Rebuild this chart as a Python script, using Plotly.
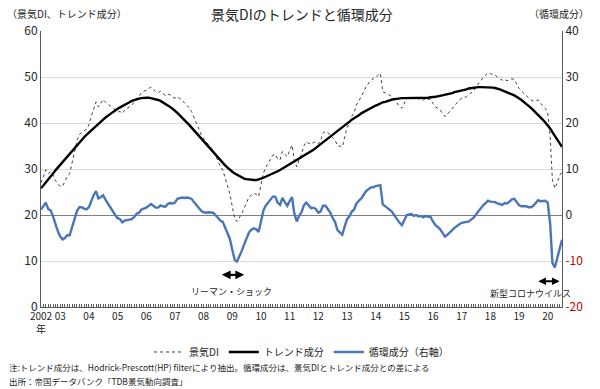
import plotly.graph_objects as go
import pandas as pd

start_month = "2002-05-01"

di = [27.0, 28.5, 29.8, 29.0, 29.4, 28.7, 27.5, 26.8, 26.2, 26.3,
      27.2, 28.4, 29.0, 31.5, 34.0, 36.0, 37.5, 38.0, 38.3, 38.6,
      39.6, 41.5, 43.2, 44.6, 43.5, 44.2, 45.1, 44.5, 44.0, 43.7,
      43.3, 42.8, 42.4, 42.5, 42.1, 42.8, 43.2, 43.5, 43.9, 44.6,
      45.4, 45.8, 46.6, 46.9, 47.1, 47.5, 47.8, 47.3, 46.8, 46.6,
      46.9, 46.4, 46.0, 46.3, 46.1, 45.6, 45.4, 45.7, 45.4, 45.0,
      44.4, 43.9, 43.3, 42.5, 41.2, 40.0, 38.6, 37.5, 36.6, 35.9,
      35.4, 34.7, 34.1, 33.0, 31.8, 30.6, 29.8, 28.2, 26.4, 24.6,
      21.8, 19.2, 18.6, 19.4, 20.3, 21.5, 22.8, 23.9, 24.4, 24.7,
      24.5, 24.0, 26.5, 29.1, 30.3, 31.2, 31.9, 33.0, 33.2, 32.2,
      32.0, 33.8, 33.2, 32.7, 34.0, 35.2, 32.0, 30.5, 32.0, 33.2,
      35.0, 35.9, 35.6, 35.4, 35.8, 35.9, 35.5, 36.2, 37.8, 38.2,
      37.9, 37.5, 36.8, 36.3, 35.0, 35.0, 34.8, 36.9, 39.0, 40.0,
      41.4, 42.2, 43.9, 44.8, 45.7, 46.8, 47.9, 48.6, 49.3, 49.6,
      50.1, 50.4, 50.8, 46.8, 46.6, 46.3, 46.0, 45.7, 45.0, 44.3,
      43.6, 43.2, 44.5, 45.4, 45.6, 45.7, 45.3, 45.5, 45.2, 45.3,
      45.0, 45.3, 45.1, 45.2, 44.2, 43.5, 43.2, 42.8, 42.1, 41.4,
      41.9, 42.5, 43.2, 43.9, 44.5, 45.0, 45.4, 45.6, 45.7, 46.1,
      46.6, 47.0, 47.8, 48.6, 49.3, 49.9, 50.4, 50.9, 50.7, 50.5,
      50.4, 50.0, 49.6, 49.3, 49.5, 49.2, 49.4, 49.6, 49.5, 48.6,
      47.5, 46.9, 46.5, 46.1, 45.5, 45.0, 44.8, 44.9, 45.0, 44.3,
      43.8, 43.2, 42.2, 37.0, 27.6, 25.8, 27.0, 28.6, 29.4]

trend = [25.8, 26.4, 27.1, 27.7, 28.4, 29.0, 29.7, 30.3, 30.9, 31.6,
         32.2, 32.8, 33.4, 34.0, 34.6, 35.2, 35.8, 36.3, 36.9, 37.4,
         37.9, 38.4, 38.9, 39.4, 39.9, 40.3, 40.8, 41.2, 41.6, 42.0,
         42.4, 42.8, 43.1, 43.4, 43.7, 44.0, 44.3, 44.5, 44.8, 45.0,
         45.1, 45.3, 45.4, 45.5, 45.5, 45.5, 45.4, 45.3, 45.2, 45.0,
         44.8, 44.5, 44.2, 43.9, 43.5, 43.1, 42.7, 42.2, 41.7, 41.2,
         40.7, 40.1, 39.6, 39.0, 38.4, 37.8, 37.2, 36.6, 36.0, 35.4,
         34.8, 34.2, 33.6, 33.0, 32.4, 31.8, 31.3, 30.8, 30.3, 29.8,
         29.4, 29.0, 28.7, 28.4, 28.1, 27.9, 27.8, 27.7, 27.6, 27.6,
         27.6, 27.7, 27.9, 28.1, 28.3, 28.5, 28.7, 29.0, 29.2, 29.5,
         29.8, 30.1, 30.4, 30.7, 31.0, 31.3, 31.6, 31.9, 32.2, 32.6,
         32.9, 33.2, 33.5, 33.9, 34.2, 34.6, 35.0, 35.4, 35.8, 36.2,
         36.6, 37.0, 37.4, 37.8, 38.3, 38.7, 39.1, 39.5, 39.9, 40.3,
         40.7, 41.0, 41.4, 41.7, 42.1, 42.4, 42.7, 43.0, 43.3, 43.6,
         43.8, 44.0, 44.3, 44.5, 44.6, 44.8, 44.9, 45.1, 45.2, 45.3,
         45.3, 45.4, 45.4, 45.4, 45.5, 45.5, 45.5, 45.5, 45.5, 45.5,
         45.5, 45.5, 45.5, 45.6, 45.6, 45.7, 45.8, 45.9, 46.0, 46.1,
         46.2, 46.4, 46.5, 46.7, 46.8, 47.0, 47.1, 47.2, 47.3, 47.5,
         47.6, 47.6, 47.7, 47.8, 47.8, 47.8, 47.8, 47.8, 47.8, 47.7,
         47.6, 47.5, 47.3, 47.1, 46.9, 46.7, 46.5, 46.2, 46.0, 45.7,
         45.4, 45.0, 44.6, 44.2, 43.8, 43.3, 42.8, 42.3, 41.8, 41.3,
         40.7, 40.1, 39.5, 38.8, 38.0, 37.2, 36.4, 35.6, 34.8]

cycle = [1.2, 2.1, 2.7, 1.3, 1.0, -0.3, -2.2, -3.5, -4.7, -5.3,
         -5.0, -4.4, -4.4, -2.5, -0.6, 0.8, 1.7, 1.7, 1.4, 1.2,
         1.7, 3.1, 4.3, 5.2, 3.6, 3.9, 4.3, 3.3, 2.4, 1.7,
         0.9, 0.0, -0.7, -0.9, -1.6, -1.2, -1.1, -1.0, -0.9, -0.4,
         0.3, 0.5, 1.2, 1.4, 1.6, 2.0, 2.4, 2.0, 1.6, 1.6,
         2.1, 1.9, 1.8, 2.4, 2.6, 2.5, 2.7, 3.5, 3.7, 3.8,
         3.7, 3.8, 3.7, 3.5, 2.8, 2.2, 1.4, 0.9, 0.6, 0.5,
         0.6, 0.5, 0.5, 0.0, -0.6, -1.2, -1.5, -2.6, -3.9, -5.2,
         -7.6, -9.8, -10.1, -9.0, -7.8, -6.4, -5.0, -3.8, -3.2, -2.9,
         -3.1, -3.7, -1.4, 1.0, 2.0, 2.7, 3.2, 4.0, 4.0, 2.7,
         2.2, 3.7, 2.8, 2.0, 3.0, 3.9, 0.4, -1.4, -0.2, 0.6,
         2.1, 2.7, 2.1, 1.5, 1.6, 1.3, 0.5, 0.8, 2.0, 2.0,
         1.3, 0.5, -0.6, -1.5, -3.3, -3.7, -4.3, -2.6, -0.9, -0.3,
         0.7, 1.2, 2.5, 3.1, 3.6, 4.4, 5.2, 5.6, 6.0, 6.0,
         6.3, 6.4, 6.5, 2.3, 2.0, 1.5, 1.1, 0.6, -0.2, -1.0,
         -1.7, -2.2, -0.9, 0.0, 0.1, 0.2, -0.2, 0.0, -0.3, -0.2,
         -0.5, -0.2, -0.4, -0.4, -1.4, -2.2, -2.6, -3.1, -3.9, -4.7,
         -4.3, -3.9, -3.3, -2.8, -2.3, -2.0, -1.7, -1.6, -1.6, -1.4,
         -1.0, -0.6, 0.1, 0.8, 1.5, 2.1, 2.6, 3.1, 2.9, 2.8,
         2.8, 2.5, 2.3, 2.2, 2.6, 2.5, 2.9, 3.4, 3.5, 2.9,
         2.1, 1.9, 1.9, 1.9, 1.7, 1.7, 2.0, 2.6, 3.2, 3.0,
         3.1, 3.1, 2.7, -1.8, -10.4, -11.4, -9.4, -7.0, -5.4]

tick_dates = ["2002-05-01"] + [f"{y}-01-01" for y in range(2003, 2021)]
tick_labels = ["2002<br>年"] + [f"{y % 100:02d}" for y in range(2003, 2021)]

left_ticks = [0, 10, 20, 30, 40, 50, 60]
right_ticks = [-20, -10, 0, 10, 20, 30, 40]
right_labels = ["<span style='color:#c00000'>-20</span>",
                "<span style='color:#c00000'>-10</span>",
                "0", "10", "20", "30", "40"]

months = pd.date_range(start_month, periods=len(di), freq="MS")

FONT = "Noto Sans CJK JP"
TXT = "#262626"

fig = go.Figure()
fig.add_trace(go.Scatter(x=months, y=di, name="景気DI", mode="lines",
                         line=dict(color="#404040", width=1, dash="dot")))
fig.add_trace(go.Scatter(x=months, y=trend, name="トレンド成分", mode="lines",
                         line=dict(color="#000000", width=2.4)))
fig.add_trace(go.Scatter(x=months, y=cycle, name="循環成分（右軸）", mode="lines",
                         line=dict(color="#4a76b8", width=2.4), yaxis="y2"))

fig.update_layout(
    width=600, height=389,
    margin=dict(l=41, r=38, t=31, b=82, autoexpand=False),
    paper_bgcolor="white", plot_bgcolor="white",
    font=dict(family=FONT, size=11, color=TXT),
    showlegend=True,
    legend=dict(orientation="h", x=0.5, xanchor="center", y=-0.163, yanchor="middle",
                font=dict(size=10, color=TXT), itemwidth=30, tracegroupgap=0,
                bgcolor="rgba(0,0,0,0)"),
    xaxis=dict(type="date", range=[months[0], months[-1]],
               tickvals=tick_dates, ticktext=tick_labels, tickangle=0,
               ticks="inside", ticklen=3, tickcolor="#595959",
               minor=dict(ticks="inside", dtick="M1", tick0=start_month, ticklen=3,
                          tickcolor="#595959", showgrid=False),
               showline=True, linecolor="#595959", linewidth=1,
               showgrid=False, zeroline=False,
               tickfont=dict(size=10, color=TXT), mirror=False),
    yaxis=dict(range=[0, 60], tickvals=left_ticks, showgrid=True, gridcolor="#d9d9d9",
               gridwidth=1, showline=True, linecolor="#595959", linewidth=1,
               zeroline=False, ticks="", tickfont=dict(size=12, color=TXT)),
    yaxis2=dict(range=[-20, 40], overlaying="y", side="right", tickvals=right_ticks,
                ticktext=right_labels, showgrid=False, showline=True,
                linecolor="#595959", linewidth=1, zeroline=True,
                zerolinecolor="#7f7f7f", zerolinewidth=1, ticks="",
                tickfont=dict(size=12, color=TXT)),
)

ann = [
    dict(text="景気DIのトレンドと循環成分", x=0.5, y=1.0616, xref="paper", yref="paper",
         showarrow=False, font=dict(size=14, color=TXT), xanchor="center", yanchor="middle"),
    dict(text="（景気DI、トレンド成分）", x=-0.069, y=1.065, xref="paper", yref="paper",
         showarrow=False, font=dict(size=10, color=TXT), xanchor="left", yanchor="middle"),
    dict(text="（循環成分）", x=1.056, y=1.065, xref="paper", yref="paper",
         showarrow=False, font=dict(size=10, color=TXT), xanchor="right", yanchor="middle"),
    dict(text="注:トレンド成分は、Hodrick-Prescott(HP) filterにより抽出。循環成分は、景気DIとトレンド成分との差による",
         x=-0.066, y=-0.217, xref="paper", yref="paper", showarrow=False,
         font=dict(size=8.5, color=TXT), xanchor="left", yanchor="middle"),
    dict(text="出所：帝国データバンク「TDB景気動向調査」",
         x=-0.066, y=-0.268, xref="paper", yref="paper", showarrow=False,
         font=dict(size=8.5, color=TXT), xanchor="left", yanchor="middle"),
    dict(text="リーマン・ショック", x="2008-12-15", y=3.3, xref="x", yref="y",
         showarrow=False, font=dict(size=9, color=TXT), xanchor="center", yanchor="middle"),
    dict(text="新型コロナウイルス", x="2019-06-01", y=3.0, xref="x", yref="y",
         showarrow=False, font=dict(size=9, color=TXT), xanchor="center", yanchor="middle"),
    dict(text="", x="2009-06-01", y=7.0, ax="2008-08-01", ay=7.0, xref="x", yref="y",
         axref="x", ayref="y", showarrow=True, arrowhead=2, arrowsize=0.8, arrowwidth=2.2,
         arrowcolor="#000000", arrowside="end+start"),
    dict(text="", x="2020-06-01", y=5.6, ax="2019-08-15", ay=5.6, xref="x", yref="y",
         axref="x", ayref="y", showarrow=True, arrowhead=2, arrowsize=0.7, arrowwidth=2.2,
         arrowcolor="#000000", arrowside="end+start"),
]
fig.update_layout(annotations=ann)

fig.write_html("out.html", config={"displayModeBar": False},
               post_script="document.body.style.margin='0';document.body.style.overflow='hidden';")
